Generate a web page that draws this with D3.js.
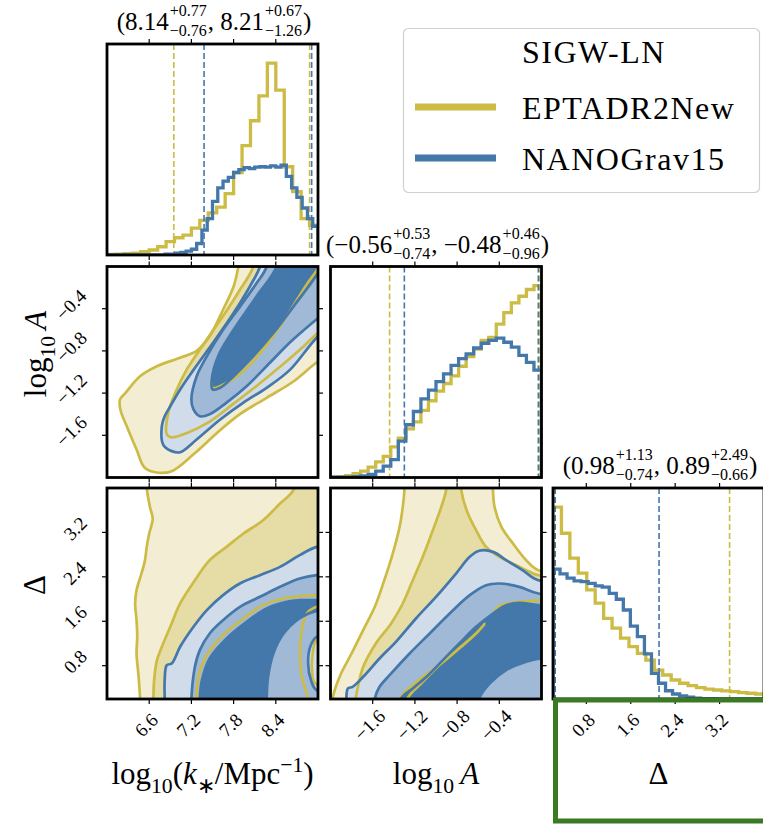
<!DOCTYPE html>
<html>
<head>
<meta charset="utf-8">
<script src="https://cdn.jsdelivr.net/npm/d3@7"></script>
<style>
  body { margin: 0; background: #fff; }
  svg text { font-family: "Liberation Serif", "Times New Roman", serif; fill: #000; }
</style>
</head>
<body>
<svg id="chart" width="763" height="828"></svg>
<script>
// parameter ranges and ticks
var kRange = [6, 9], aRange = [-2, 0], dRange = [0.2, 4];
var kTicks = [6.6, 7.2, 7.8, 8.4];
var aTicks = [-1.6, -1.2, -0.8, -0.4];
var dTicks = [0.8, 1.6, 2.4, 3.2];

var legendTitle = "SIGW-LN";
var seriesNames = ["EPTADR2New", "NANOGrav15"];

// median and bounds shown above the diagonal (first NANOGrav15, then EPTADR2New)
var nanoMed = [8.14, -0.56, 0.98], nanoPlus = [0.77, 0.53, 1.13], nanoMinus = [0.76, 0.74, 0.74];
var eptaMed = [8.21, -0.48, 0.89], eptaPlus = [0.67, 0.46, 2.49], eptaMinus = [1.26, 0.96, 0.66];

// 1D histograms (heights relative to the EPTA peak)
var eptaKHist = [0.003, 0.005, 0.007, 0.010, 0.017, 0.026, 0.043, 0.07, 0.09, 0.104, 0.14, 0.18, 0.22,
  0.25, 0.32, 0.43, 0.57, 0.70, 0.83, 1.0, 0.86, 0.46, 0.33, 0.19, 0.155];
var nanoKHist = [0, 0, 0, 0, 0, 0, 0, 0, 0, 0, 0, 0.004, 0.005, 0.009, 0.014, 0.02, 0.03, 0.06, 0.13, 0.19,
  0.28, 0.35, 0.385, 0.405, 0.43, 0.445, 0.455, 0.45, 0.458, 0.46, 0.458, 0.465, 0.458, 0.468, 0.41,
  0.35, 0.30, 0.245, 0.19, 0.15];
var eptaAHist = [0.003, 0.005, 0.01, 0.02, 0.033, 0.054, 0.081, 0.11, 0.16, 0.205, 0.254, 0.29, 0.35,
  0.40, 0.45, 0.49, 0.53, 0.58, 0.63, 0.67, 0.715, 0.73, 0.80, 0.86, 0.91, 0.945, 0.98, 1.0];
var nanoAHist = [0.002, 0.002, 0.002, 0.004, 0.008, 0.016, 0.033, 0.059, 0.093, 0.19, 0.275, 0.344, 0.41,
  0.456, 0.50, 0.54, 0.585, 0.62, 0.645, 0.675, 0.70, 0.715, 0.727, 0.705, 0.68, 0.637, 0.60, 0.56];
var eptaDHist = [1.0, 0.864, 0.734, 0.656, 0.569, 0.5, 0.42, 0.369, 0.317, 0.273, 0.238, 0.203, 0.151,
  0.125, 0.099, 0.082, 0.07, 0.059, 0.052, 0.047, 0.042, 0.038, 0.033, 0.03, 0.026];
var nanoDHist = [0.677, 0.652, 0.63, 0.616, 0.612, 0.603, 0.59, 0.583, 0.551, 0.52, 0.464, 0.38, 0.325,
  0.235, 0.134, 0.082, 0.043, 0.026, 0.016, 0.009, 0.004, 0.002, 0.002, 0.001, 0.001, 0, 0, 0, 0, 0];

// 2D credible contours: one list of rings per level (outer, middle, inner)
function open(pts) { pts.open = true; return pts; }

var eptaKA1 = [[[8.0, 0.35], [7.87, 0.0], [7.80, -0.19], [7.65, -0.41], [7.46, -0.66], [7.275, -0.80], [7.04, -0.865],
  [6.71, -0.945], [6.47, -1.04], [6.26, -1.20], [6.185, -1.26], [6.19, -1.355], [6.30, -1.545], [6.42, -1.735],
  [6.54, -1.91], [6.73, -1.955], [6.92, -1.94], [7.23, -1.78], [7.56, -1.58], [7.89, -1.40], [8.27, -1.245],
  [8.65, -1.09], [8.98, -0.91], [9.35, -0.75], [9.35, 0.35]]];
var eptaKA2 = [[[8.12, 0.3], [8.08, 0.0], [7.89, -0.22], [7.65, -0.47], [7.37, -0.74], [7.13, -0.98], [6.97, -1.20],
  [6.87, -1.39], [6.85, -1.59], [6.92, -1.62], [7.13, -1.58], [7.46, -1.47], [7.80, -1.30], [8.13, -1.13],
  [8.46, -0.95], [8.79, -0.76], [8.98, -0.64], [9.35, -0.45], [9.35, 0.3]]];
var eptaKA3 = [open([[7.49, -1.07], [7.50, -1.15], [7.725, -1.095], [7.985, -0.96], [8.27, -0.74], [8.555, -0.47],
  [8.84, -0.17], [8.98, -0.04], [9.2, 0.2]])];
var nanoKA1 = [[[8.25, 0.3], [8.175, 0.0], [8.03, -0.19], [7.80, -0.44], [7.51, -0.72], [7.23, -0.98], [7.04, -1.165],
  [6.90, -1.325], [6.82, -1.42], [6.78, -1.51], [6.80, -1.69], [6.92, -1.75], [7.04, -1.76], [7.275, -1.64],
  [7.61, -1.45], [7.94, -1.29], [8.27, -1.15], [8.60, -0.98], [8.98, -0.675], [9.35, -0.45], [9.35, 0.3]]];
var nanoKA2 = [[[8.3, 0.3], [8.27, 0.0], [8.13, -0.155], [7.89, -0.38], [7.65, -0.60], [7.42, -0.85], [7.275, -1.04],
  [7.20, -1.26], [7.23, -1.355], [7.32, -1.42], [7.46, -1.40], [7.70, -1.29], [7.985, -1.135], [8.32, -0.91],
  [8.60, -0.72], [8.98, -0.50], [9.35, -0.3], [9.35, 0.3]]];
var nanoKA3 = [[[8.45, 0.3], [8.41, 0.0], [8.13, -0.28], [7.80, -0.60], [7.58, -0.85], [7.49, -1.07], [7.50, -1.165],
  [7.61, -1.15], [7.80, -1.04], [8.08, -0.85], [8.365, -0.63], [8.65, -0.38], [8.935, -0.125], [9.2, 0.15], [9.2, 0.3]]];

var eptaKD1 = [[[6.56, 4.4], [6.565, 4.0], [6.61, 3.66], [6.65, 3.45], [6.60, 3.18], [6.565, 2.94], [6.54, 2.70],
  [6.49, 2.46], [6.42, 2.16], [6.40, 1.92], [6.42, 1.62], [6.43, 1.32], [6.42, 1.02], [6.445, 0.66], [6.47, 0.21],
  [6.47, -0.1], [9.4, -0.1], [9.4, 4.4]]];
var eptaKD2 = [[[8.72, 4.4], [8.65, 3.96], [8.46, 3.72], [8.22, 3.42], [7.94, 3.18], [7.70, 2.94], [7.46, 2.70],
  [7.25, 2.34], [7.04, 1.92], [6.90, 1.50], [6.78, 1.14], [6.71, 0.90], [6.67, 0.54], [6.66, 0.21], [6.66, -0.1],
  [9.4, -0.1], [9.4, 4.4]],
  open([[9.3, 1.3], [8.98, 1.26], [8.925, 1.02], [8.915, 0.72], [8.96, 0.48], [9.3, 0.4]])];
var eptaKD3 = [open([[7.275, 0.0], [7.275, 0.21], [7.30, 0.60], [7.42, 0.99], [7.65, 1.35], [7.94, 1.65], [8.22, 1.89],
  [8.51, 2.01], [8.74, 2.05], [8.98, 2.07], [9.3, 2.08]]),
  open([[9.3, 1.92], [8.98, 1.86], [8.84, 1.74], [8.77, 1.44], [8.745, 1.02], [8.77, 0.60], [8.84, 0.30], [8.88, 0.0]])];
var nanoKD1 = [[[9.4, 3.0], [8.98, 2.94], [8.74, 2.79], [8.46, 2.58], [8.175, 2.43], [7.89, 2.28], [7.65, 2.07],
  [7.42, 1.80], [7.23, 1.50], [7.04, 1.14], [6.92, 0.84], [6.85, 0.81], [6.82, 0.54], [6.82, 0.21], [6.82, -0.1],
  [9.4, -0.1]]];
var nanoKD2 = [[[9.4, 2.45], [8.98, 2.43], [8.74, 2.37], [8.46, 2.22], [8.175, 2.04], [7.89, 1.86], [7.65, 1.62],
  [7.46, 1.38], [7.32, 1.08], [7.25, 0.78], [7.20, 0.21], [7.20, -0.1], [9.4, -0.1]],
  [[9.4, 1.35], [8.98, 1.32], [8.89, 1.14], [8.86, 0.84], [8.90, 0.54], [8.98, 0.36], [9.4, 0.33]]];
var nanoKD3 = [[[9.4, 2.0], [8.98, 1.98], [8.74, 1.98], [8.555, 1.95], [8.27, 1.83], [7.985, 1.59], [7.70, 1.29],
  [7.46, 0.93], [7.35, 0.54], [7.32, 0.21], [7.32, -0.1], [9.4, -0.1]],
  [[8.27, -0.1], [8.27, 0.21], [8.29, 0.60], [8.365, 1.02], [8.51, 1.38], [8.70, 1.62], [8.935, 1.77], [9.4, 1.8],
  [9.4, -0.1]]];

var eptaAD1 = [[[-1.30, 4.4], [-1.30, 3.96], [-1.315, 3.66], [-1.345, 3.30], [-1.41, 2.82], [-1.49, 2.34], [-1.58, 1.86],
  [-1.69, 1.44], [-1.80, 1.02], [-1.90, 0.66], [-1.96, 0.36], [-1.98, 0.21], [-1.99, -0.1], [0.4, -0.1], [0.4, 2.45],
  [-0.03, 2.52], [-0.145, 2.70], [-0.27, 3.00], [-0.38, 3.30], [-0.445, 3.66], [-0.46, 3.96], [-0.46, 4.4]]];
var eptaAD2 = [[[-0.90, 4.4], [-0.905, 3.96], [-0.95, 3.66], [-1.03, 3.24], [-1.125, 2.76], [-1.22, 2.34], [-1.315, 1.92],
  [-1.425, 1.56], [-1.57, 1.20], [-1.69, 0.78], [-1.74, 0.42], [-1.76, 0.21], [-1.77, -0.1], [0.4, -0.1], [0.4, 2.4],
  [-0.03, 2.43], [-0.11, 2.49], [-0.24, 2.61], [-0.40, 2.76], [-0.525, 2.94], [-0.62, 3.24], [-0.71, 3.60],
  [-0.76, 3.96], [-0.77, 4.4]]];
var eptaAD3 = [open([[-1.34, 0.0], [-1.33, 0.24], [-1.155, 0.55], [-0.97, 0.81], [-0.78, 1.11], [-0.62, 1.38], [-0.54, 1.55],
  [-0.59, 1.44], [-0.745, 1.17], [-0.935, 0.87], [-1.125, 0.51], [-1.27, 0.21], [-1.28, 0.0]]),
  open([[-0.46, 1.74], [-0.40, 1.87], [-0.21, 1.95], [-0.03, 1.97], [0.3, 1.98]])];
var nanoAD1 = [[[0.4, 2.3], [-0.03, 2.34], [-0.18, 2.52], [-0.335, 2.70], [-0.46, 2.85], [-0.59, 2.87], [-0.68, 2.76],
  [-0.81, 2.46], [-1.00, 2.04], [-1.19, 1.65], [-1.38, 1.23], [-1.535, 0.93], [-1.69, 0.60], [-1.79, 0.42],
  [-1.835, 0.39], [-1.85, 0.21], [-1.85, -0.1], [0.4, -0.1]]];
var nanoAD2 = [[[0.4, 2.08], [-0.03, 2.10], [-0.21, 2.22], [-0.40, 2.28], [-0.525, 2.25], [-0.68, 2.07], [-0.87, 1.74],
  [-1.06, 1.38], [-1.25, 1.02], [-1.425, 0.66], [-1.535, 0.42], [-1.58, 0.21], [-1.59, -0.1], [0.4, -0.1]]];
var nanoAD3 = [[[0.4, 1.88], [-0.03, 1.89], [-0.21, 1.93], [-0.335, 1.89], [-0.46, 1.74], [-0.62, 1.50], [-0.78, 1.20],
  [-0.935, 0.90], [-1.09, 0.60], [-1.22, 0.39], [-1.33, 0.21], [-1.34, -0.1], [0.4, -0.1]],
  [[-0.6, -0.1], [-0.59, 0.21], [-0.49, 0.48], [-0.335, 0.72], [-0.145, 0.87], [-0.01, 0.93], [0.4, 0.95], [0.4, -0.1]]];

// ---------------------------------------------------------------------------
var YEL = "#ccbb44", BLU = "#4477aa";
var eptaFill = ["#f3eed3", "#e5dca6", "#d6c86a"];
var nanoFill = ["#d0dcea", "#9fb9d6", "#4477aa"];

var S = 211;
var PX = [107, 330.5, 553];
var PY = [44, 266.5, 488];
var ranges = [kRange, aRange, dRange];
var ticks = [kTicks, aTicks, dTicks];
var eptaHists = [eptaKHist, eptaAHist, eptaDHist];
var nanoHists = [nanoKHist, nanoAHist, nanoDHist];

var xs = ranges.map(function (r, i) { return d3.scaleLinear().domain(r).range([PX[i], PX[i] + S]); });
var ys = ranges.map(function (r, i) { return d3.scaleLinear().domain(r).range([PY[i] + S, PY[i]]); });
var f1 = d3.format(".1f"), f2 = d3.format(".2f");

var svg = d3.select("#chart");
svg.append("rect").attr("width", 763).attr("height", 828).attr("fill", "#fff");
var defs = svg.append("defs");

function clipFor(r, c) {
  var id = "clip" + r + c;
  defs.append("clipPath").attr("id", id).append("rect")
    .attr("x", PX[c]).attr("y", PY[r]).attr("width", S).attr("height", S);
  return "url(#" + id + ")";
}

// ---- diagonal: histograms ----
function drawHist(i) {
  var g = svg.append("g").attr("clip-path", clipFor(i, i));
  var hy = d3.scaleLinear().domain([0, 1.1]).range([PY[i] + S, PY[i]]);
  var sets = [
    { vals: eptaHists[i], col: YEL, lo: eptaMed[i] - eptaMinus[i], hi: eptaMed[i] + eptaPlus[i] },
    { vals: nanoHists[i], col: BLU, lo: nanoMed[i] - nanoMinus[i], hi: nanoMed[i] + nanoPlus[i] }
  ];
  sets.forEach(function (s) {
    var r = ranges[i], n = s.vals.length, w = (r[1] - r[0]) / n;
    var p = d3.path();
    p.moveTo(xs[i](r[0]), hy(0));
    s.vals.forEach(function (v, j) {
      p.lineTo(xs[i](r[0] + j * w), hy(v));
      p.lineTo(xs[i](r[0] + (j + 1) * w), hy(v));
    });
    p.lineTo(xs[i](r[1]), hy(0));
    g.append("path").attr("d", p.toString()).attr("fill", "none")
      .attr("stroke", s.col).attr("stroke-width", 3.3).attr("stroke-linejoin", "miter");
    [s.lo, s.hi].forEach(function (q) {
      g.append("line").attr("x1", xs[i](q)).attr("x2", xs[i](q))
        .attr("y1", PY[i]).attr("y2", PY[i] + S)
        .attr("stroke", s.col).attr("stroke-width", 1.6).attr("stroke-dasharray", "6,3");
    });
  });
}

// ---- off-diagonal: filled contours ----
function drawContours(r, c, epta, nano) {
  var g = svg.append("g").attr("clip-path", clipFor(r, c));
  var closed = d3.line().x(function (d) { return xs[c](d[0]); }).y(function (d) { return ys[r](d[1]); })
    .curve(d3.curveCatmullRomClosed.alpha(0.5));
  var openL = d3.line().x(function (d) { return xs[c](d[0]); }).y(function (d) { return ys[r](d[1]); })
    .curve(d3.curveCatmullRom.alpha(0.5));
  function fills(levels, cols) {
    levels.forEach(function (rings, k) {
      g.append("path").attr("d", rings.map(function (ring) { return closed(ring); }).join(""))
        .attr("fill", cols[k]).attr("fill-rule", "evenodd").attr("stroke", "none");
    });
  }
  function lines(levels, col) {
    levels.forEach(function (rings) {
      rings.forEach(function (ring) {
        g.append("path").attr("d", ring.open ? openL(ring) : closed(ring))
          .attr("fill", "none").attr("stroke", col).attr("stroke-width", 2.7).attr("stroke-linejoin", "round");
      });
    });
  }
  fills(epta, eptaFill);
  fills(nano, nanoFill);
  lines(epta, YEL);
  lines(nano, BLU);
}

// ---- frames and ticks ----
function frame(r, c, isHist) {
  var g = svg.append("g");
  var x0 = PX[c], y0 = PY[r], L = 5;
  ticks[c].forEach(function (t) {
    var x = xs[c](t);
    g.append("line").attr("x1", x).attr("x2", x).attr("y1", y0).attr("y2", y0 - L);
    g.append("line").attr("x1", x).attr("x2", x).attr("y1", y0 + S).attr("y2", y0 + S + L);
  });
  if (!isHist) {
    ticks[r].forEach(function (t) {
      var y = ys[r](t);
      g.append("line").attr("x1", x0 - L).attr("x2", x0).attr("y1", y).attr("y2", y);
      g.append("line").attr("x1", x0 + S).attr("x2", x0 + S + L).attr("y1", y).attr("y2", y);
    });
  }
  g.selectAll("line").attr("stroke", "#000").attr("stroke-width", 1.2);
  g.append("rect").attr("x", x0).attr("y", y0).attr("width", S).attr("height", S)
    .attr("fill", "none").attr("stroke", "#000").attr("stroke-width", 2.8);
}

// rotated tick label, placed by its bounding box
function rotLabel(txt, cx, cy, right) {
  var g = svg.append("g");
  g.append("text").attr("transform", "rotate(-45)").attr("text-anchor", "middle")
    .attr("font-size", 19).text(txt);
  var bb = g.node().getBBox();
  var dx = right != null ? right - (bb.x + bb.width) : cx - (bb.x + bb.width / 2);
  var dy = cy - (bb.y + bb.height / 2);
  g.attr("transform", "translate(" + dx + "," + dy + ")");
}

function richText(text, segs, size) {
  var shift = 0;
  segs.forEach(function (s) {
    var target = s.sub ? 0.28 * size : s.sup ? -0.4 * size : 0;
    text.append("tspan").text(s.t)
      .attr("dy", target - shift)
      .attr("font-size", (s.sub || s.sup) ? size * 0.7 : size)
      .attr("font-style", s.it ? "italic" : null);
    shift = target;
  });
}

function drawTitle(i) {
  var parts = [
    { t: "(" + f2(nanoMed[i]) }, { sup: "+" + f2(nanoPlus[i]), sub: "\u2212" + f2(nanoMinus[i]) },
    { t: ", " + f2(eptaMed[i]) }, { sup: "+" + f2(eptaPlus[i]), sub: "\u2212" + f2(eptaMinus[i]) },
    { t: ")" }
  ];
  var g = svg.append("g"), x = 0, base = PY[i] - 14;
  parts.forEach(function (p) {
    if (p.t) {
      var t = g.append("text").attr("x", x).attr("y", base).attr("font-size", 25).text(p.t);
      x += t.node().getComputedTextLength() + 1;
    } else {
      var a = g.append("text").attr("x", x).attr("y", base - 14).attr("font-size", 16).text(p.sup);
      var b = g.append("text").attr("x", x).attr("y", base + 6).attr("font-size", 16).text(p.sub);
      x += Math.max(a.node().getComputedTextLength(), b.node().getComputedTextLength()) + 1;
    }
  });
  g.attr("transform", "translate(" + (PX[i] + S / 2 - x / 2 + 2) + ",0)");
}

// draw
[0, 1, 2].forEach(drawHist);
drawContours(1, 0, [eptaKA1, eptaKA2, eptaKA3], [nanoKA1, nanoKA2, nanoKA3]);
drawContours(2, 0, [eptaKD1, eptaKD2, eptaKD3], [nanoKD1, nanoKD2, nanoKD3]);
drawContours(2, 1, [eptaAD1, eptaAD2, eptaAD3], [nanoAD1, nanoAD2, nanoAD3]);

[[0, 0], [1, 1], [2, 2]].forEach(function (p) { frame(p[0], p[1], true); });
[[1, 0], [2, 0], [2, 1]].forEach(function (p) { frame(p[0], p[1], false); });

[0, 1, 2].forEach(drawTitle);

// tick labels
[0, 1, 2].forEach(function (c) {
  ticks[c].forEach(function (t) { rotLabel(f1(t), xs[c](t) - 3, PY[2] + S + 26); });
});
[1, 2].forEach(function (r) {
  ticks[r].forEach(function (t) { rotLabel(f1(t), null, ys[r](t) - 4, PX[0] - 16); });
});

// axis labels
var labK = [{ t: "log" }, { t: "10", sub: true }, { t: "(" }, { t: "k", it: true }, { t: "\u2217", sub: true },
  { t: "/Mpc" }, { t: "\u22121", sup: true }, { t: ")" }];
var labA = [{ t: "log" }, { t: "10", sub: true }, { t: "\u2009" }, { t: "A", it: true }];
var labD = [{ t: "\u0394" }];

richText(svg.append("text").attr("x", xs[0](7.5)).attr("y", 784).attr("text-anchor", "middle"), labK, 31);
richText(svg.append("text").attr("x", xs[1](-1)).attr("y", 784).attr("text-anchor", "middle"), labA, 31);
richText(svg.append("text").attr("x", xs[2](2.1)).attr("y", 784).attr("text-anchor", "middle"), labD, 31);
richText(svg.append("text").attr("transform", "translate(46,354) rotate(-90)")
  .attr("text-anchor", "middle"), labA, 31);
richText(svg.append("text").attr("transform", "translate(45,585) rotate(-90)")
  .attr("text-anchor", "middle"), labD, 31);

// legend
var lg = svg.append("g");
lg.append("rect").attr("x", 403.5).attr("y", 28.5).attr("width", 356).attr("height", 164).attr("rx", 5)
  .attr("fill", "#fff").attr("stroke", "#d0d0d0").attr("stroke-width", 1.2);
lg.append("text").attr("x", 522).attr("y", 63).attr("font-size", 32).attr("letter-spacing", 1.5).text(legendTitle);
[YEL, BLU].forEach(function (col, i) {
  var y = 107 + i * 51;
  lg.append("line").attr("x1", 415).attr("x2", 496).attr("y1", y).attr("y2", y)
    .attr("stroke", col).attr("stroke-width", 7);
  lg.append("text").attr("x", 522).attr("y", y + 12).attr("font-size", 32).attr("letter-spacing", 1.5)
    .text(seriesNames[i]);
});

// green highlight box under the last panel
svg.append("rect").attr("x", 555.5).attr("y", 700).attr("width", 220).attr("height", 121)
  .attr("fill", "none").attr("stroke", "#3a7a22").attr("stroke-width", 5);
</script>
</body>
</html>
